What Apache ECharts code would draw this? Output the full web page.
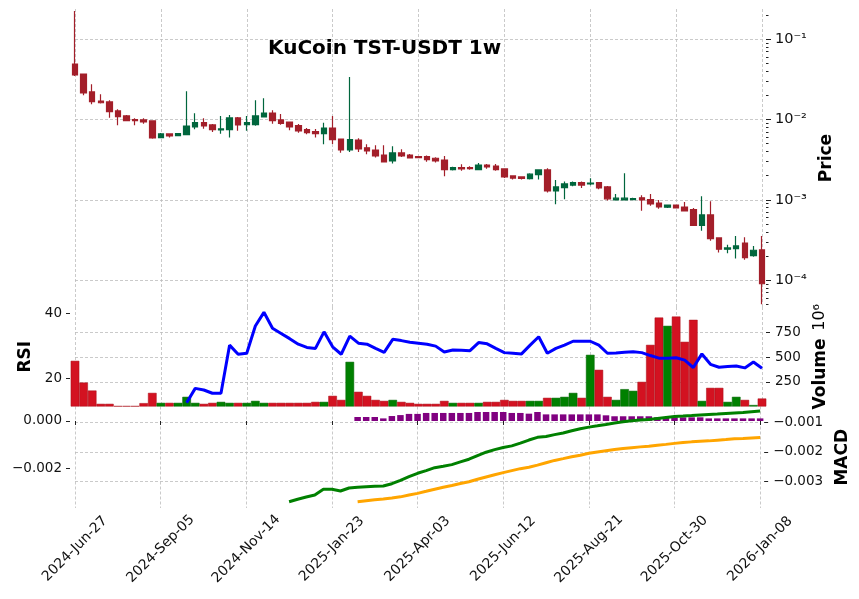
<!DOCTYPE html>
<html>
<head>
<meta charset="utf-8">
<title>KuCoin TST-USDT 1w</title>
<script src="https://cdn.jsdelivr.net/npm/echarts@6/dist/echarts.min.js"></script>
<style>
  html, body { margin: 0; padding: 0; background: #fff; }
  #chart { width: 859px; height: 599px; }
</style>
</head>
<body>
<div id="chart"></div>
<script>
// weekly candles, 2024-06-27 .. 2026-01-08
var opens = [0.0492, 0.0369, 0.0221, 0.0170, 0.01656, 0.0128, 0.0111, 0.00997, 0.0099, 0.00962,
  0.00596, 0.00663, 0.00632, 0.00649, 0.00809, 0.00915, 0.00857, 0.00742, 0.00748, 0.01047,
  0.00864, 0.00864, 0.01078, 0.01208, 0.0099, 0.00933, 0.0084, 0.00748, 0.00707, 0.00667,
  0.00785, 0.00573, 0.00418, 0.00557, 0.00446, 0.00418, 0.00362, 0.00305, 0.00384, 0.00362,
  0.00345, 0.00345, 0.0033, 0.00314, 0.00238, 0.00252, 0.00252, 0.00238, 0.00272, 0.00264,
  0.00243, 0.00199, 0.00193, 0.00184, 0.00206, 0.00236, 0.00129, 0.00142, 0.00153, 0.00164,
  0.00158, 0.00164, 0.00145, 0.00100, 0.00100, 0.00101, 0.00106, 0.00101, 0.000914, 0.00081,
  0.000863, 0.000816, 0.000755, 0.000483, 0.000649, 0.000336, 0.000243, 0.000247, 0.00029, 0.000202,
  0.000238];
var highs = [0.225, 0.0370, 0.0275, 0.0207, 0.01738, 0.01343, 0.0114, 0.01037, 0.01037, 0.00965,
  0.0068, 0.00668, 0.0068, 0.0225, 0.01197, 0.01037, 0.00882, 0.0111, 0.0114, 0.01078,
  0.0111, 0.01738, 0.01841, 0.01306, 0.01175, 0.00936, 0.00882, 0.00785, 0.00764, 0.00915,
  0.0111, 0.00576, 0.0339, 0.00586, 0.00492, 0.00479, 0.00479, 0.00466, 0.00427, 0.00372,
  0.0035, 0.00358, 0.0034, 0.00352, 0.00259, 0.00278, 0.00262, 0.00287, 0.0028, 0.0028,
  0.00247, 0.0020, 0.00196, 0.00214, 0.0024, 0.00247, 0.00177, 0.0017, 0.00169, 0.00169,
  0.00186, 0.00166, 0.00149, 0.00118, 0.00214, 0.00106, 0.00114, 0.00118, 0.000995, 0.000865,
  0.000866, 0.000942, 0.00079, 0.00111, 0.000962, 0.000338, 0.000277, 0.000355, 0.000342, 0.000267,
  0.000355];
var lows = [0.0349, 0.0201, 0.0155, 0.0158, 0.01057, 0.00849, 0.0096, 0.00849, 0.00889, 0.00579,
  0.00592, 0.00596, 0.0063, 0.00645, 0.00757, 0.00771, 0.00701, 0.00667, 0.00596, 0.00728,
  0.00728, 0.0084, 0.01075, 0.00889, 0.00864, 0.00736, 0.00687, 0.00656, 0.00596, 0.00492,
  0.00497, 0.00387, 0.00394, 0.00394, 0.0037, 0.00336, 0.00292, 0.00283, 0.00343, 0.00328,
  0.00333, 0.00299, 0.00292, 0.00197, 0.00233, 0.00231, 0.00238, 0.00235, 0.00245, 0.00231,
  0.00187, 0.00179, 0.00179, 0.00179, 0.00179, 0.00124, 0.00088, 0.00102, 0.00148, 0.00141,
  0.00152, 0.00136, 0.00098, 0.00099, 0.00098, 0.00100, 0.000735, 0.000848, 0.000776, 0.000795,
  0.00079, 0.000725, 0.000473, 0.000413, 0.00031, 0.000222, 0.000216, 0.000187, 0.00018, 0.000196,
  0.0000501];
var closes = [0.0359, 0.02145, 0.0167, 0.0162, 0.01253, 0.01086, 0.00968, 0.00968, 0.00933, 0.0059,
  0.00663, 0.00625, 0.00667, 0.00832, 0.00915, 0.00832, 0.00748, 0.00764, 0.01047, 0.00857,
  0.00915, 0.0111, 0.01208, 0.00968, 0.00899, 0.00809, 0.00722, 0.00687, 0.00667, 0.00785,
  0.00562, 0.00418, 0.00562, 0.00431, 0.00406, 0.00352, 0.00297, 0.00384, 0.00352, 0.00333,
  0.00336, 0.00317, 0.00305, 0.00238, 0.00252, 0.00243, 0.00245, 0.00272, 0.00257, 0.00238,
  0.00193, 0.00187, 0.00185, 0.00209, 0.00236, 0.00129, 0.00145, 0.00158, 0.00164, 0.00153,
  0.00162, 0.00141, 0.00103, 0.00105, 0.00105, 0.00104, 0.000997, 0.00089, 0.000816, 0.000863,
  0.000793, 0.000728, 0.000483, 0.000649, 0.000329, 0.000243, 0.000252, 0.000267, 0.000191, 0.000236,
  0.0000903];

// volume in millions
var volumes = [463, 243, 162, 27, 27, 4, 4, 4, 34, 138,
  37, 37, 37, 98, 37, 27, 37, 47, 37, 37,
  37, 57, 37, 37, 37, 37, 37, 37, 47, 47,
  108, 67, 453, 149, 108, 67, 57, 67, 47, 37,
  27, 27, 27, 57, 37, 37, 37, 37, 47, 47,
  67, 57, 57, 57, 57, 88, 88, 98, 138, 88,
  524, 372, 98, 67, 176, 159, 250, 625, 902, 818,
  912, 656, 879, 57, 189, 189, 47, 98, 67, 15,
  81];

var rsi = [null, null, null, null, null, null, null, null, null, null, null, null, null,
  12.5, 16.9, 16.4, 15.4, 15.4, 30.2, 27.4, 27.7, 36.1, 40.3,
  35.4, 33.8, 32.2, 30.5, 29.5, 29.2, 34.3, 29.7, 27.4, 33.0,
  30.8, 30.5, 29.2, 28.0, 32.0, 31.6, 31.1, 30.8, 30.5, 29.9,
  28.1, 28.7, 28.6, 28.5, 31.0, 30.6, 29.2, 27.9, 27.7, 27.5,
  30.2, 32.8, 27.7, 29.2, 30.2, 31.4, 31.4, 31.4, 30.2, 27.7,
  27.8, 28.0, 28.2, 27.9, 27.0, 26.2, 26.2, 26.3, 25.6, 23.3,
  27.5, 24.3, 23.4, 23.6, 23.8, 23.2, 25.0, 23.1];

var macd = [null, null, null, null, null, null, null, null, null, null,
  null, null, null, null, null, null, null, null, null, null,
  null, null, null, null, null,
  -0.003696, -0.003611, -0.003536, -0.003468, -0.003273, -0.003273, -0.003331, -0.003229, -0.003205, -0.003184,
  -0.003171, -0.003160, -0.003082, -0.002966, -0.002843, -0.002727, -0.002638, -0.002536, -0.002488, -0.002433,
  -0.002341, -0.002249, -0.002126, -0.002010, -0.001922, -0.001853, -0.001795, -0.001703, -0.001597, -0.001505,
  -0.001478, -0.001413, -0.001358, -0.001283, -0.001215, -0.001157, -0.001113, -0.001068, -0.001020, -0.000976,
  -0.000942, -0.000918, -0.000898, -0.000863, -0.000829, -0.000795, -0.000782, -0.000765, -0.000747, -0.000730,
  -0.000713, -0.000693, -0.000676, -0.000659, -0.000635, -0.000611];

var signal = [null, null, null, null, null, null, null, null, null, null,
  null, null, null, null, null, null, null, null, null, null,
  null, null, null, null, null, null, null, null, null, null,
  null, null, null,
  -0.003696, -0.003662, -0.003628, -0.003604, -0.003570, -0.003529, -0.003468, -0.003410, -0.003341, -0.003270,
  -0.003205, -0.003143, -0.003075, -0.003014, -0.002932, -0.002853, -0.002775, -0.002706, -0.002638, -0.002570,
  -0.002522, -0.002451, -0.002369, -0.002290, -0.002229, -0.002164, -0.002113, -0.002044, -0.002000, -0.001959,
  -0.001922, -0.001887, -0.001857, -0.001829, -0.001805, -0.001771, -0.001744, -0.001710, -0.001683, -0.001659,
  -0.001642, -0.001625, -0.001601, -0.001580, -0.001556, -0.001546, -0.001529, -0.001512];

var hist = [null, null, null, null, null, null, null, null, null, null,
  null, null, null, null, null, null, null, null, null, null,
  null, null, null, null, null, null, null, null, null, null,
  null, null, null,
  0.00017, 0.00017, 0.00017, 0.00011, 0.00021, 0.00025, 0.00030, 0.00030, 0.00034, 0.00034,
  0.00034, 0.00034, 0.00034, 0.00034, 0.00038, 0.00038, 0.00038, 0.00038, 0.00034, 0.00034,
  0.00031, 0.00038, 0.00028, 0.00028, 0.00028, 0.00028, 0.00028, 0.00028, 0.00028, 0.00024,
  0.00020, 0.00020, 0.00020, 0.00020, 0.00020, 0.000155, 0.000155, 0.000155, 0.000155, 0.000155,
  0.000155, 0.00011, 0.00011, 0.00011, 0.00011, 0.00011, 0.00011, 0.00011];

// tick labels
var priceTicks = [0.0001, 0.001, 0.01, 0.1];
var volTicks = [250, 500, 750];
var rsiTicks = [20, 40];
var macdLeftTicks = [0, -0.002];
var macdRightTicks = [-0.001, -0.002, -0.003];

var months = ['Jan', 'Feb', 'Mar', 'Apr', 'May', 'Jun', 'Jul', 'Aug', 'Sep', 'Oct', 'Nov', 'Dec'];
var dates = [];
var t0 = Date.UTC(2024, 5, 27);
for (var i = 0; i < opens.length; i++) {
  var d = new Date(t0 + i * 7 * 86400000);
  var dd = d.getUTCDate();
  dates.push(d.getUTCFullYear() + '-' + months[d.getUTCMonth()] + '-' + (dd < 10 ? '0' + dd : dd));
}

var minorTicks = [];
for (var e = -5; e <= -1; e++) {
  for (var m = 2; m <= 9; m++) {
    var v = m * Math.pow(10, e);
    if (v > 4.64e-5 && v < 0.238) minorTicks.push(v);
  }
}

var UP = '#00663d', DOWN = '#a31f2a';
var VUP = '#008000', VDOWN = '#d31221';
var FONT = 'DejaVu Sans';

var candles = opens.map(function (o, i) { return [o, closes[i], lows[i], highs[i]]; });
var volData = volumes.map(function (v, i) {
  var up = closes[i] >= opens[i];
  return { value: v, itemStyle: { color: up ? VUP : VDOWN, borderColor: up ? '#006000' : '#a80e18' } };
});

var sup = { '-': '\u207b', '0': '\u2070', '1': '\u00b9', '2': '\u00b2', '3': '\u00b3', '4': '\u2074', '5': '\u2075', '6': '\u2076', '7': '\u2077', '8': '\u2078', '9': '\u2079' };
function powLabel(v) {
  var ex = String(Math.round(Math.log10(v)));
  return '10' + ex.split('').map(function (c) { return sup[c]; }).join('');
}
function minus(s) { return s.replace('-', '\u2212'); }
function every10(idx) { return idx % 10 === 0; }

var gridLine = { show: true, lineStyle: { color: '#bdbdbd', width: 0.8, type: [3, 2] } };
var tickStyle = { color: '#222', width: 1 };
var labelStyle = { fontFamily: FONT, fontSize: 13.5, color: '#111' };

function xAx(gi, showLabels) {
  return {
    type: 'category', gridIndex: gi, data: dates, boundaryGap: false,
    axisLine: { show: false },
    axisTick: { show: showLabels, interval: every10, length: 4, lineStyle: tickStyle },
    axisLabel: {
      show: showLabels, interval: every10, rotate: 45, margin: 41,
      align: 'center', verticalAlign: 'middle',
      fontFamily: FONT, fontSize: 13.9, color: '#111'
    },
    splitLine: { show: true, interval: every10, lineStyle: gridLine.lineStyle }
  };
}

var chart = echarts.init(document.getElementById('chart'), null, { renderer: 'canvas' });
chart.setOption({
  animation: false,
  backgroundColor: '#fff',
  textStyle: { fontFamily: FONT },
  title: {
    text: 'KuCoin TST-USDT 1w', left: 263, top: 34,
    textStyle: { fontFamily: FONT, fontWeight: 'bold', fontSize: 20, color: '#000' }
  },
  grid: [
    { left: 75, right: 97, top: 9, height: 298 },
    { left: 75, right: 97, top: 307, height: 99.5 },
    { left: 75, right: 97, top: 406.5, height: 101.5 }
  ],
  xAxis: [xAx(0, false), xAx(1, false), xAx(2, true)],
  yAxis: [
    {
      type: 'log', logBase: 10, gridIndex: 0, position: 'right', offset: 4,
      min: 4.64e-5, max: 0.238,
      axisLine: { show: false },
      axisTick: { show: true, length: 5, customValues: priceTicks, lineStyle: tickStyle },
      axisLabel: Object.assign({ customValues: priceTicks, formatter: powLabel, margin: 9 }, labelStyle, { fontSize: 14.5 }),
      splitLine: gridLine,
      name: 'Price', nameLocation: 'middle', nameRotate: 90, nameGap: 45,
      nameTextStyle: { fontFamily: FONT, fontWeight: 'bold', fontSize: 17, color: '#000' }
    },
    {
      type: 'log', logBase: 10, gridIndex: 0, position: 'right', offset: 4,
      min: 4.64e-5, max: 0.238,
      axisLine: { show: false },
      axisTick: { show: true, length: 2.5, customValues: minorTicks, lineStyle: tickStyle },
      axisLabel: { show: false },
      splitLine: { show: false }
    },
    {
      type: 'value', gridIndex: 1, position: 'left', offset: 5,
      min: 11.32, max: 41.94,
      axisLine: { show: false },
      axisTick: { show: true, length: 4, customValues: rsiTicks, lineStyle: tickStyle },
      axisLabel: Object.assign({ customValues: rsiTicks, margin: 8 }, labelStyle),
      splitLine: { show: false },
      name: 'RSI', nameLocation: 'middle', nameRotate: 90, nameGap: 32,
      nameTextStyle: { fontFamily: FONT, fontWeight: 'bold', fontSize: 17, color: '#000' }
    },
    {
      type: 'value', gridIndex: 1, position: 'right', offset: 4,
      min: 0, max: 1009,
      axisLine: { show: false },
      axisTick: { show: true, length: 4, customValues: volTicks, lineStyle: tickStyle },
      axisLabel: Object.assign({ customValues: volTicks, margin: 9 }, labelStyle),
      splitLine: gridLine,
      name: '{b|Volume}  {n|10\u2076}', nameLocation: 'middle', nameRotate: 90, nameGap: 40,
      nameTextStyle: {
        rich: {
          b: { fontFamily: FONT, fontWeight: 'bold', fontSize: 17, color: '#000' },
          n: { fontFamily: FONT, fontSize: 16, color: '#000' }
        }
      }
    },
    {
      type: 'value', gridIndex: 2, position: 'left', offset: 5,
      min: -0.003679, max: 0.000613,
      axisLine: { show: false },
      axisTick: { show: true, length: 4, customValues: macdLeftTicks, lineStyle: tickStyle },
      axisLabel: Object.assign({
        customValues: macdLeftTicks, margin: 8,
        formatter: function (v) { return minus(v.toFixed(3)); }
      }, labelStyle),
      splitLine: { show: false }
    },
    {
      type: 'value', gridIndex: 2, position: 'right', offset: 4,
      min: -0.003908, max: -0.000456,
      axisLine: { show: false },
      axisTick: { show: true, length: 4, customValues: macdRightTicks, lineStyle: tickStyle },
      axisLabel: Object.assign({
        customValues: macdRightTicks, margin: 9,
        formatter: function (v) { return minus(v.toFixed(3)); }
      }, labelStyle),
      splitLine: gridLine,
      name: 'MACD', nameLocation: 'middle', nameRotate: 90, nameGap: 66,
      nameTextStyle: { fontFamily: FONT, fontWeight: 'bold', fontSize: 17, color: '#000' }
    }
  ],
  series: [
    {
      name: 'Price', type: 'candlestick', xAxisIndex: 0, yAxisIndex: 0,
      data: candles, barWidth: 6, clip: false,
      itemStyle: { color: UP, color0: DOWN, borderColor: UP, borderColor0: DOWN, borderWidth: 1.2 }
    },
    {
      name: 'Volume', type: 'bar', xAxisIndex: 1, yAxisIndex: 3,
      data: volData, barWidth: '100%', clip: false,
      itemStyle: { borderWidth: 0.5 }
    },
    {
      name: 'RSI', type: 'line', xAxisIndex: 1, yAxisIndex: 2,
      data: rsi, symbol: 'none', z: 5,
      lineStyle: { color: '#0000ff', width: 3 }
    },
    {
      name: 'Hist', type: 'bar', xAxisIndex: 2, yAxisIndex: 4,
      data: hist, barWidth: 6.5, clip: false,
      itemStyle: { color: '#800080' }
    },
    {
      name: 'MACD', type: 'line', xAxisIndex: 2, yAxisIndex: 5,
      data: macd, symbol: 'none', z: 5,
      lineStyle: { color: '#008000', width: 3 }
    },
    {
      name: 'Signal', type: 'line', xAxisIndex: 2, yAxisIndex: 5,
      data: signal, symbol: 'none', z: 5,
      lineStyle: { color: '#ffa500', width: 3 }
    }
  ]
});
</script>
</body>
</html>
